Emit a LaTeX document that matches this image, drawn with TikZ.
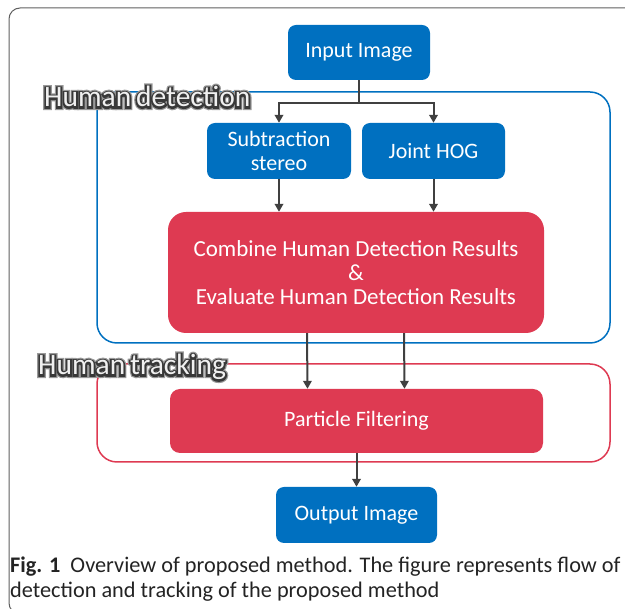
\documentclass[tikz,border=0pt]{standalone}
\usepackage{fontspec}
\setmainfont{Carlito}
\usetikzlibrary{arrows.meta}

\definecolor{boxblue}{RGB}{0,112,192}
\definecolor{boxred}{RGB}{222,58,82}
\definecolor{arrowgray}{RGB}{64,64,64}
\definecolor{framegray}{RGB}{95,95,95}
\definecolor{captiongray}{RGB}{35,35,35}

% outlined text: a soft wide stroke, a dark stroke, then the filled glyphs
\newcommand{\outlined}[1]{%
	\rlap{\special{pdf:literal direct 1 Tr 6 w 0.6 G}#1\special{pdf:literal direct 0 Tr}}%
	\rlap{\special{pdf:literal direct 1 Tr 3.6 w 0.22 G}#1\special{pdf:literal direct 0 Tr}}#1}

\tikzset{
	bluebox/.style={fill=boxblue, text=white, rounded corners=8pt, inner sep=0pt,
		align=center, font=\fontsize{22}{24}\selectfont},
	redbox/.style={fill=boxred, text=white, inner sep=0pt,
		align=center, font=\fontsize{22}{24}\selectfont},
	zone/.style={line width=1.5pt, rounded corners=20pt, inner sep=0pt,
		minimum width=513pt},
	zonelabel/.style={anchor=base west, inner sep=0pt, text=white!94!black,
		font=\fontsize{29.5}{29.5}\selectfont},
	link/.style={draw=arrowgray, line width=2pt},
	flow/.style={link, -{Triangle[length=8pt,width=8.5pt]}},
}

\begin{document}
\begin{tikzpicture}[x=1pt, y=-1pt]
		\useasboundingbox (0,0) rectangle (625,609);
		% Page frame
		\draw[framegray, line width=1pt, rounded corners=11pt] (9,8) rectangle (660,614);
		%
		% Zones
		\node[zone, draw=boxblue, minimum height=251pt] (detzone) at (353.5, 217.5) {};
		\node[zone, draw=boxred, minimum height=98pt] (trkzone) at (353.5, 413) {};
		\node[zonelabel] (detlabel) at (44, 107) {\outlined{Human\,detection}};
		\node[zonelabel] (trklabel) at (38, 375) {\outlined{Human\,tracking}};
		%
		% Boxes
		\node[bluebox, minimum width=142pt, minimum height=55pt] (input) at (359, 52.5) {Input Image};
		\node[bluebox, minimum width=144pt, minimum height=56pt] (subtr) at (279, 151) {Subtraction\\stereo};
		\node[bluebox, minimum width=143pt, minimum height=56pt] (hog) at (433.5, 151) {Joint HOG};
		\node[redbox, rounded corners=18pt, minimum width=376pt, minimum height=121pt,
			font=\fontsize{23}{24}\selectfont] (comb) at (356, 272.5)
			{Combine Human Detection Results\\\&\\Evaluate Human Detection Results};
		\node[redbox, rounded corners=10pt, minimum width=373pt, minimum height=64pt] (part) at (356.5, 421) {Particle Filtering};
		\node[bluebox, minimum width=161pt, minimum height=56pt] (output) at (356.5, 515) {Output Image};
		%
		\coordinate (split) at (359, 103);
		% Drawing the edges
		\draw[link] (input) -- (split);
		\draw[flow] (split) -| (subtr.north); \draw[flow] (split) -| (hog.north);
		\draw[flow] (subtr) -- (subtr |- comb.north);
		\draw[flow] (hog) -- (hog |- comb.north);
		\draw[flow] ([xshift=-49pt]comb.south) -- ([xshift=-49pt]part.north);
		\draw[flow] ([xshift=48pt]comb.south) -- ([xshift=48pt]part.north);
		\draw[flow] (part) -- (output);
		%
		% Caption
		\node[anchor=base west, inner sep=0pt, align=left, text=captiongray,
			font=\fontsize{22.3}{25}\selectfont] (caption) at (10, 598)
			{\textbf{Fig. 1}\hspace{0.45em}Overview of proposed method. The figure represents flow of\\
			detection and tracking of the proposed method};
\end{tikzpicture}
\end{document}
